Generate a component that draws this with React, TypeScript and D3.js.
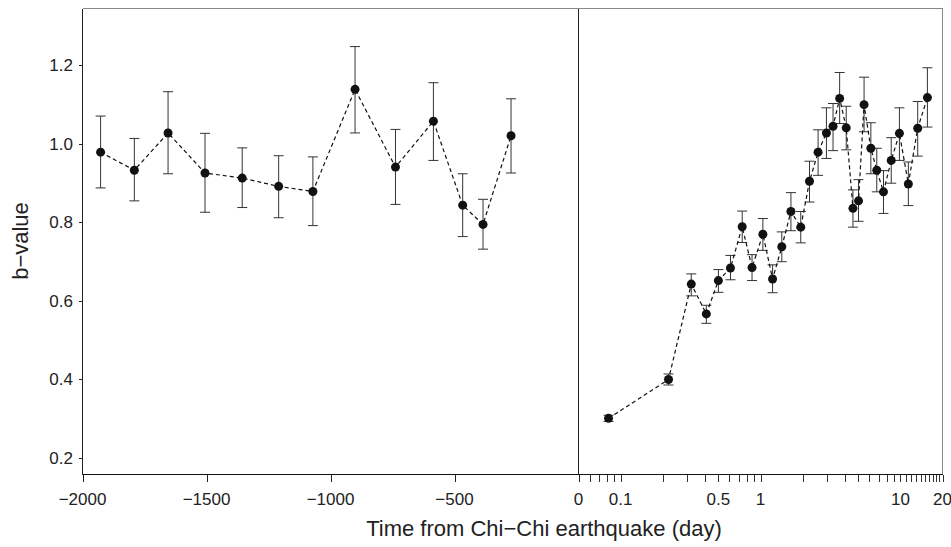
import React from 'react';
import * as d3 from 'd3';

// before the main shock (days, linear axis)
const preDays = [-1927, -1791, -1655, -1506, -1356, -1209, -1071, -901, -738, -585, -467, -385, -272];
const preB = [0.978, 0.932, 1.027, 0.925, 0.912, 0.891, 0.878, 1.138, 0.94, 1.057, 0.843, 0.794, 1.02];
const preUpper = [1.07, 1.013, 1.132, 1.026, 0.989, 0.969, 0.966, 1.247, 1.036, 1.155, 0.923, 0.858, 1.114];
const preLower = [0.887, 0.854, 0.923, 0.825, 0.837, 0.811, 0.791, 1.027, 0.845, 0.957, 0.763, 0.731, 0.925];

// after the main shock (days, log axis)
const postDays = [0.082, 0.22, 0.32, 0.41, 0.5, 0.61, 0.74, 0.87, 1.04, 1.22, 1.42, 1.65, 1.94, 2.24, 2.58,
  2.96, 3.3, 3.68, 4.1, 4.58, 5.02, 5.5, 6.15, 6.78, 7.57, 8.6, 9.84, 11.4, 13.3, 15.6];
const postB = [0.3, 0.399, 0.642, 0.566, 0.651, 0.683, 0.788, 0.684, 0.769, 0.655, 0.737, 0.827, 0.787, 0.904, 0.978,
  1.027, 1.044, 1.115, 1.04, 0.835, 0.854, 1.099, 0.988, 0.932, 0.877, 0.957, 1.026, 0.897, 1.039, 1.117];
const postUpper = [0.308, 0.413, 0.668, 0.588, 0.679, 0.715, 0.828, 0.717, 0.809, 0.691, 0.775, 0.875, 0.827, 0.955, 1.035,
  1.091, 1.102, 1.181, 1.095, 0.882, 0.908, 1.169, 1.053, 0.988, 0.931, 1.015, 1.091, 0.953, 1.107, 1.193];
const postLower = [0.292, 0.385, 0.612, 0.542, 0.621, 0.653, 0.748, 0.651, 0.728, 0.62, 0.699, 0.778, 0.747, 0.851, 0.919,
  0.962, 0.982, 1.051, 0.984, 0.787, 0.802, 1.03, 0.923, 0.877, 0.822, 0.899, 0.957, 0.842, 0.968, 1.042];

const yTicks = [0.2, 0.4, 0.6, 0.8, 1.0, 1.2];
const preTicks = [-2000, -1500, -1000, -500, 0];
const postTicks = [0.06, 0.07, 0.08, 0.09, 0.1, 0.2, 0.3, 0.4, 0.5, 0.6, 0.7, 0.8, 0.9, 1,
  2, 3, 4, 5, 6, 7, 8, 9, 10, 11, 12, 13, 14, 15, 16, 17, 18, 19, 20];
const postTickLabels = [0.1, 0.5, 1, 10, 20];

const W = 951;
const H = 547;
const left = 82.5, mid = 578.5, right = 942.5, top = 8.5, bottom = 474.5;
const font = '"Liberation Sans", Arial, sans-serif';

const App = () => {
  const xPre = d3.scaleLinear().domain([-2000, 0]).range([left, mid]);
  const xPost = d3.scaleLog().domain([0.05, 20]).range([mid, right]);
  const y = d3.scaleLinear().domain([0.157, 1.344]).range([bottom, top]);
  const fmtY = d3.format('.1f');
  const fmtX = d3.format('d');

  const preLine = d3.line<number>().x((d, i) => xPre(preDays[i])).y(d => y(d))(preB);
  const postLine = d3.line<number>().x((d, i) => xPost(postDays[i])).y(d => y(d))(postB);

  const errBar = (x: number, lo: number, hi: number, key: string) => (
    <g key={key} stroke="#333" strokeWidth={1}>
      <line x1={x} x2={x} y1={y(lo)} y2={y(hi)} />
      <line x1={x - 5} x2={x + 5} y1={y(lo)} y2={y(lo)} />
      <line x1={x - 5} x2={x + 5} y1={y(hi)} y2={y(hi)} />
    </g>
  );

  return (
    <svg width={W} height={H} style={{ position: 'absolute', left: 0, top: 0, background: '#fff' }}
      fontFamily={font}>
      {/* frame */}
      <g shapeRendering="crispEdges">
        <line x1={left} x2={right} y1={top} y2={top} stroke="#888" />
        <line x1={right} x2={right} y1={top} y2={bottom} stroke="#888" />
        <line x1={left} x2={left} y1={top} y2={bottom} stroke="#222" />
        <line x1={left} x2={right} y1={bottom} y2={bottom} stroke="#111" />
        <line x1={mid} x2={mid} y1={top} y2={bottom} stroke="#222" />
      </g>

      {/* y axis */}
      <g shapeRendering="crispEdges">
        {yTicks.map(t => (
          <line key={t} x1={left - 4} x2={left} y1={Math.round(y(t)) + 0.5} y2={Math.round(y(t)) + 0.5} stroke="#222" />
        ))}
      </g>
      {yTicks.map(t => (
        <text key={t} x={73} y={y(t)} dy="0.36em" textAnchor="end" fontSize={17} fill="#222">{fmtY(t)}</text>
      ))}

      {/* x axis ticks */}
      <g shapeRendering="crispEdges">
        {preTicks.map(t => (
          <line key={t} x1={Math.round(xPre(t)) + 0.5} x2={Math.round(xPre(t)) + 0.5} y1={bottom} y2={bottom + 7} stroke="#222" />
        ))}
        {postTicks.map(t => (
          <line key={t} x1={Math.round(xPost(t)) + 0.5} x2={Math.round(xPost(t)) + 0.5} y1={bottom} y2={bottom + 7} stroke="#333" />
        ))}
      </g>
      {preTicks.map(t => (
        <text key={t} x={xPre(t)} y={505} textAnchor="middle" fontSize={17} fill="#222">{fmtX(t)}</text>
      ))}
      {postTickLabels.map(t => (
        <text key={t} x={xPost(t)} y={505} textAnchor="middle" fontSize={17} fill="#222">{String(t)}</text>
      ))}

      {/* axis titles */}
      <text x={544} y={536} textAnchor="middle" fontSize={22} fill="#222">Time from Chi−Chi earthquake (day)</text>
      <text transform="translate(28,241) rotate(-90)" textAnchor="middle" fontSize={22} fill="#222">b−value</text>

      {/* error bars */}
      {preDays.map((d, i) => errBar(xPre(d), preLower[i], preUpper[i], 'pe' + i))}
      {postDays.map((d, i) => errBar(xPost(d), postLower[i], postUpper[i], 'qe' + i))}

      {/* dashed lines */}
      <path d={preLine ?? ''} fill="none" stroke="#111" strokeWidth={1.2} strokeDasharray="4,3" />
      <path d={postLine ?? ''} fill="none" stroke="#111" strokeWidth={1.2} strokeDasharray="4,3" />

      {/* points */}
      {preDays.map((d, i) => (
        <circle key={'p' + i} cx={xPre(d)} cy={y(preB[i])} r={4.5} fill="#111" />
      ))}
      {postDays.map((d, i) => (
        <circle key={'q' + i} cx={xPost(d)} cy={y(postB[i])} r={4.5} fill="#111" />
      ))}
    </svg>
  );
};

export default App;
